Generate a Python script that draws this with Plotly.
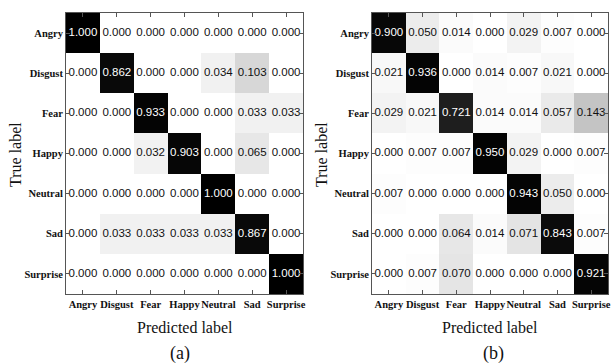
import plotly.graph_objects as go

labels = ["Angry", "Disgust", "Fear", "Happy", "Neutral", "Sad", "Surprise"]

cm_a = [
    [1.000, 0.000, 0.000, 0.000, 0.000, 0.000, 0.000],
    [0.000, 0.862, 0.000, 0.000, 0.034, 0.103, 0.000],
    [0.000, 0.000, 0.933, 0.000, 0.000, 0.033, 0.033],
    [0.000, 0.000, 0.032, 0.903, 0.000, 0.065, 0.000],
    [0.000, 0.000, 0.000, 0.000, 1.000, 0.000, 0.000],
    [0.000, 0.033, 0.033, 0.033, 0.033, 0.867, 0.000],
    [0.000, 0.000, 0.000, 0.000, 0.000, 0.000, 1.000],
]

cm_b = [
    [0.900, 0.050, 0.014, 0.000, 0.029, 0.007, 0.000],
    [0.021, 0.936, 0.000, 0.014, 0.007, 0.021, 0.000],
    [0.029, 0.021, 0.721, 0.014, 0.014, 0.057, 0.143],
    [0.000, 0.007, 0.007, 0.950, 0.029, 0.000, 0.007],
    [0.007, 0.000, 0.000, 0.000, 0.943, 0.050, 0.000],
    [0.000, 0.000, 0.064, 0.014, 0.071, 0.843, 0.007],
    [0.000, 0.007, 0.070, 0.000, 0.000, 0.000, 0.921],
]

colorscale = [
    [0.0, "#ffffff"],
    [0.015, "#fbfbfb"],
    [0.033, "#f1f1f1"],
    [0.06, "#e9e9e9"],
    [0.103, "#d7d7d7"],
    [0.143, "#c4c4c4"],
    [0.4, "#6a6a6a"],
    [0.72, "#1e1e1e"],
    [0.85, "#0a0a0a"],
    [1.0, "#000000"],
]

fig = go.Figure()

panels = [
    (cm_a, "x", "y", [66 / 613, 303 / 613]),
    (cm_b, "x2", "y2", [372 / 613, 608 / 613]),
]

for cm, xa, ya, dom in panels:
    fig.add_trace(go.Heatmap(
        z=cm, x=labels, y=labels, colorscale=colorscale, zmin=0, zmax=1,
        showscale=False, xaxis=xa, yaxis=ya, hoverinfo="skip",
    ))
    xs, ys, txt, cols = [], [], [], []
    for i, row in enumerate(cm):
        for j, v in enumerate(row):
            xs.append(labels[j]); ys.append(labels[i])
            txt.append(f"{v:.3f}")
            cols.append("#ffffff" if v > 0.5 else "#111111")
    fig.add_trace(go.Scatter(
        x=xs, y=ys, text=txt, mode="text", xaxis=xa, yaxis=ya,
        textfont=dict(family="Liberation Sans, Arial", size=11.5, color=cols),
        hoverinfo="skip", showlegend=False,
    ))

serif = "Liberation Serif, Times New Roman"
axis_common = dict(
    showline=True, linecolor="#555555", linewidth=1, mirror="ticks",
    ticks="inside", ticklen=4, tickcolor="#555555", showgrid=False,
    zeroline=False, type="category", categoryorder="array", categoryarray=labels,
    automargin=False, tickangle=0,
    tickfont=dict(family=serif, size=10.5, color="#111111", weight="bold"),
)

ydom = [1 - 294 / 364, 1 - 13 / 364]
fig.update_layout(
    width=613, height=364,
    margin=dict(l=0, r=0, t=0, b=0),
    paper_bgcolor="white", plot_bgcolor="white",
    showlegend=False,
    xaxis=dict(**axis_common, domain=panels[0][3], anchor="y", range=[-0.5, 6.5]),
    yaxis=dict(**axis_common, domain=ydom, anchor="x", range=[6.5, -0.5]),
    xaxis2=dict(**axis_common, domain=panels[1][3], anchor="y2", range=[-0.5, 6.5]),
    yaxis2=dict(**axis_common, domain=ydom, anchor="x2", range=[6.5, -0.5]),
)

annots = [
    dict(x=185 / 613, y=1 - 327 / 364, text="Predicted label", size=16),
    dict(x=490 / 613, y=1 - 327 / 364, text="Predicted label", size=16),
    dict(x=180 / 613, y=1 - 353 / 364, text="(a)", size=18),
    dict(x=493 / 613, y=1 - 353 / 364, text="(b)", size=18),
]
for a in annots:
    fig.add_annotation(x=a["x"], y=a["y"], xref="paper", yref="paper", text=a["text"],
                       xanchor="center", yanchor="middle",
                       showarrow=False, font=dict(family=serif, size=a["size"], color="#111111"))
for xp in [15 / 613, 321 / 613]:
    fig.add_annotation(x=xp, y=1 - 155 / 364, xref="paper", yref="paper", text="True label",
                       textangle=-90, showarrow=False, xanchor="center", yanchor="middle",
                       font=dict(family=serif, size=16, color="#111111"))

fig.write_html(
    "out.html",
    config={"displayModeBar": False},
    post_script="document.body.style.margin='0';document.body.style.overflow='hidden';",
)
